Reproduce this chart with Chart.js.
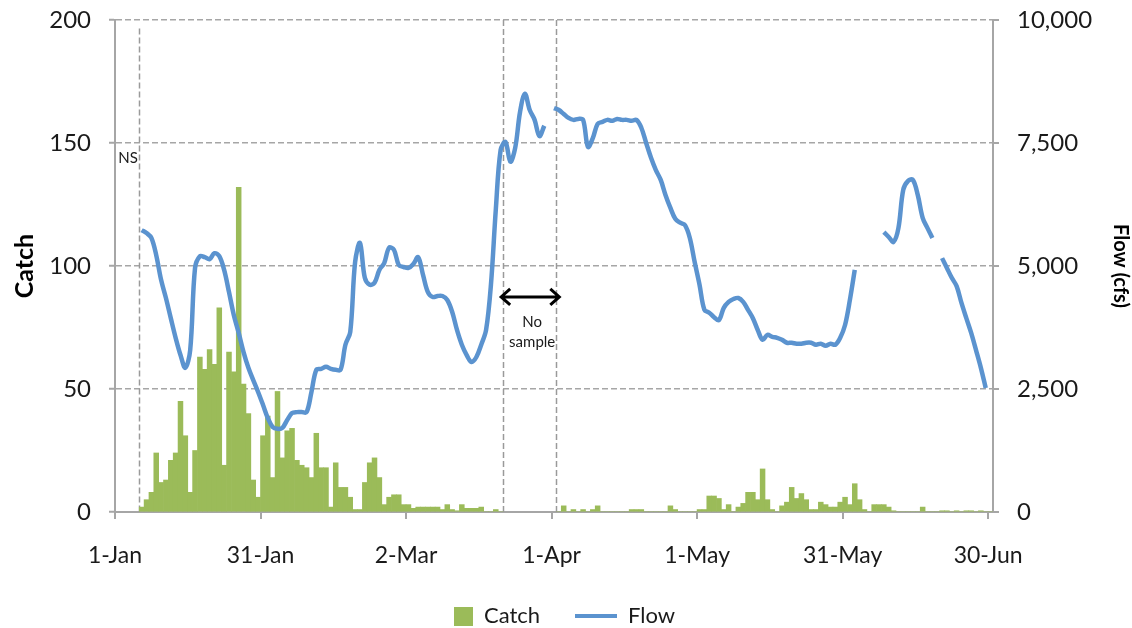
<!DOCTYPE html>
<html>
<head>
  <title>Catch and Flow</title>
  <script src="https://cdn.jsdelivr.net/npm/chart.js"></script>
  <style>
    html, body { margin: 0; padding: 0; background: #fff; }
  </style>
</head>
<body>
  <canvas id="catchChart" width="1132" height="628"></canvas>

  <script>
    // one entry per day, 1-Jan = index 0 ... 30-Jun = index 180 (null = not sampled)
    const catchValues = [
      null, null, null, null, null, 2, 5, 8, 24, 12,
      13, 21, 24, 45, 31, 8, 25, 63, 58, 66,
      60, 83, 19, 65, 57, 132, 52, 40, 13, 6,
      31, 39, 14, 49, 22, 33, 34, 21, 19, 18,
      14, 32, 18, 18, 2, 20, 10, 10, 6, 1,
      1, 12, 20, 22, 14, 3, 6, 7, 7, 3,
      3, 1.5, 2, 2, 2, 2, 2, 1, 3, 1,
      0.5, 3, 1.5, 1.5, 1.5, 2, 0, 0, 1, 0,
      null, null, null, null, null, null, null, null, null, null,
      null, 0, 2.5, 0, 1, 0, 1, 0, 1, 2.5,
      0, 0, 0, 0, 0, 0, 1, 1, 1, 0,
      0, 0, 0, 0, 2.5, 1, 0, 0, 0, 0,
      1, 1, 6.5, 6.5, 5.5, 1, 3, 0, 2, 3.5,
      8, 8, 5, 17.5, 5, 1, 0, 2.5, 4, 10,
      5.5, 7.5, 5, 1, 1, 4, 3, 2, 2, 4,
      6, 3, 11.5, 5, 1, 0, 3, 3, 3, 2,
      0.5, 0, 0, 0, 0, 0, 2, 0, 0, 0,
      0.5, 0.5, 0, 0.5, 0, 0.5, 0.5, 0, 0.5, 0,
      0
    ];

    // daily flow (cfs), null where there is no record
    const flowValues = [
      null, null, null, null, null, 5730, 5670, 5570, 5220, 4720,
      4350, 3940, 3540, 3190, 2930, 3290, 4960, 5200, 5180, 5140,
      5260, 5200, 4920, 4470, 4000, 3640, 3250, 2930, 2680, 2440,
      2180, 1910, 1730, 1690, 1710, 1870, 2010, 2030, 2030, 2030,
      2440, 2890, 2910, 2950, 2910, 2890, 2890, 3400, 3660, 5080,
      5470, 4760, 4620, 4660, 4920, 5060, 5370, 5330, 5020, 4980,
      4960, 5040, 5180, 4820, 4470, 4370, 4390, 4390, 4310, 4070,
      3700, 3400, 3190, 3050, 3150, 3400, 3700, 4620, 6140, 7360,
      7520, 7120, 7400, 8130, 8500, 8170, 7970, 7640, 7850, null,
      8210, 8170, 8090, 8010, 7970, 7990, 7970, 7420, 7600, 7890,
      7930, 7970, 7950, 7990, 7970, 7970, 7950, 7970, 7810, 7500,
      7200, 6950, 6750, 6440, 6180, 5960, 5880, 5830, 5570, 5080,
      4620, 4110, 4050, 3960, 3900, 4150, 4270, 4330, 4350, 4270,
      4110, 3940, 3700, 3500, 3600, 3560, 3540, 3500, 3440, 3440,
      3420, 3420, 3440, 3440, 3400, 3420, 3380, 3420, 3400, 3540,
      3800, 4310, 4920, null, null, null, null, null, 5690, 5590,
      5490, 5770, 6550, 6730, 6750, 6440, 5980, 5770, 5570, null,
      5160, 4960, 4760, 4590, 4250, 3940, 3640, 3290, 2930, 2520,
      null
    ];

    const tickDays = [0, 30, 60, 90, 120, 150, 180];
    const tickLabels = ['1-Jan', '31-Jan', '2-Mar', '1-Apr', '1-May', '31-May', '30-Jun'];

    // dashed markers: NS before sampling started, and the no-sample window
    const markerDays = [5, 80, 91];
    const markerTops = [196.5, 200, 200];

    const FONT = 'Lato, "Open Sans", sans-serif';
    const GREY = '#a6a6a6';
    const TEXT = '#1a1a1a';
    const LEGEND_DROP = 9;   // legend sits lower than Chart.js would put it
    const SHIFT = 26;        // right padding, pulls the legend a bit left of centre
    Chart.defaults.font.family = FONT;

    // legend swatch: w x h canvas, coloured block of size fw x fh at its right end
    function swatch(w, h, fw, fh, color) {
      const c = document.createElement('canvas');
      c.width = w;
      c.height = h;
      const g = c.getContext('2d');
      g.fillStyle = color;
      g.fillRect(w - fw, (h - fh) / 2, fw, fh);
      return c;
    }

    const noPad = s => { s.paddingTop = 0; s.paddingBottom = 0; };

    const annotate = {
      id: 'annotate',
      beforeDatasetsDraw(chart) {
        const { ctx, chartArea, scales: { x, y } } = chart;
        ctx.save();
        ctx.strokeStyle = '#9a9a9a';
        ctx.lineWidth = 1.5;
        ctx.setLineDash([6, 3]);
        markerDays.forEach((d, i) => {
          const px = Math.round(x.getPixelForValue(d)) + 0.5;
          ctx.beginPath();
          ctx.moveTo(px, y.getPixelForValue(markerTops[i]));
          ctx.lineTo(px, chartArea.bottom);
          ctx.stroke();
        });
        ctx.restore();
      },
      afterDatasetsDraw(chart) {
        const { ctx, scales: { x, y } } = chart;
        ctx.save();
        ctx.fillStyle = TEXT;
        ctx.font = '15px ' + FONT;
        ctx.textAlign = 'center';
        ctx.textBaseline = 'middle';
        ctx.fillText('NS', x.getPixelForValue(2.7), y.getPixelForValue(144));
        ctx.fillText('No', x.getPixelForValue(86), y.getPixelForValue(77));
        ctx.fillText('sample', x.getPixelForValue(86), y.getPixelForValue(69));

        // double-headed arrow across the gap
        const x1 = x.getPixelForValue(79.4);
        const x2 = x.getPixelForValue(91.8);
        const ay = y.getPixelForValue(87.4);
        ctx.strokeStyle = '#000';
        ctx.lineWidth = 3;
        ctx.lineJoin = 'miter';
        ctx.beginPath();
        ctx.moveTo(x1 + 1, ay);
        ctx.lineTo(x2 - 1, ay);
        ctx.moveTo(x1 + 10, ay - 8);
        ctx.lineTo(x1 + 1, ay);
        ctx.lineTo(x1 + 10, ay + 8);
        ctx.moveTo(x2 - 10, ay - 8);
        ctx.lineTo(x2 - 1, ay);
        ctx.lineTo(x2 - 10, ay + 8);
        ctx.stroke();
        ctx.restore();
      }
    };

    new Chart(document.getElementById('catchChart'), {
      data: {
        datasets: [
          {
            type: 'bar',
            label: 'Catch',
            data: catchValues.map((v, i) => ({ x: i + 0.5, y: v })),
            backgroundColor: '#9bbb59',
            barPercentage: 1,
            categoryPercentage: 1,
            yAxisID: 'y',
            order: 1,
            pointStyle: swatch(42, 19, 19, 19, '#9bbb59')
          },
          {
            type: 'line',
            label: 'Flow',
            data: flowValues.map((v, i) => ({ x: i + 0.5, y: v })),
            borderColor: '#5b93cf',
            borderWidth: 4.5,
            pointRadius: 0,
            tension: 0.35,
            spanGaps: false,
            yAxisID: 'y1',
            order: 0,
            pointStyle: swatch(42, 4, 42, 4, '#5b93cf')
          }
        ]
      },
      options: {
        responsive: false,
        animation: false,
        layout: { padding: { top: 20, left: 0, right: SHIFT, bottom: -LEGEND_DROP } },
        plugins: {
          tooltip: { enabled: false },
          legend: {
            position: 'bottom',
            labels: {
              usePointStyle: true,
              pointStyleWidth: 42,
              padding: 35,
              color: TEXT,
              font: { size: 22 },
              sort: (a, b) => a.datasetIndex - b.datasetIndex
            }
          }
        },
        scales: {
          x: {
            type: 'linear',
            min: 0,
            max: 181,
            offset: false,
            afterBuildTicks: s => { s.ticks = tickDays.map(v => ({ value: v })); },
            afterFit: s => {
              s.height = 628 + LEGEND_DROP - 512 - (s.chart.legend ? s.chart.legend.height : 40);
              s.paddingLeft = 0;
              s.paddingRight = 0;
            },
            ticks: {
              autoSkip: false,
              maxRotation: 0,
              padding: 23,
              color: TEXT,
              font: { size: 23 },
              callback: (v, i) => tickLabels[i]
            },
            grid: { offset: false, drawOnChartArea: false, tickLength: 7, color: GREY, lineWidth: 2 },
            border: { color: GREY, width: 2 }
          },
          y: {
            position: 'left',
            min: 0,
            max: 200,
            afterFit: s => { s.width = 115; noPad(s); },
            ticks: { stepSize: 50, padding: 18, color: TEXT, font: { size: 24 } },
            grid: { color: GREY, lineWidth: 1.5, tickLength: 6, tickBorderDash: [], tickWidth: 2 },
            border: { color: GREY, width: 2, dash: [6, 3] },
            title: {
              display: true,
              text: 'Catch',
              color: '#000',
              font: { size: 25, weight: 'bold' },
              padding: { top: 10, bottom: 0 }
            }
          },
          y1: {
            position: 'right',
            min: 0,
            max: 10000,
            afterFit: s => { s.width = 139 - SHIFT; noPad(s); },
            ticks: {
              stepSize: 2500,
              padding: 18,
              color: TEXT,
              font: { size: 24 },
              callback: v => v.toLocaleString('en-US')
            },
            grid: { drawOnChartArea: false, color: GREY, tickLength: 6, lineWidth: 2 },
            border: { color: GREY, width: 2 },
            title: {
              display: true,
              text: 'Flow (cfs)',
              color: '#000',
              font: { size: 20, weight: 'bold' },
              padding: { top: -SHIFT, bottom: 0 }
            }
          }
        }
      },
      plugins: [annotate]
    });
  </script>
</body>
</html>
